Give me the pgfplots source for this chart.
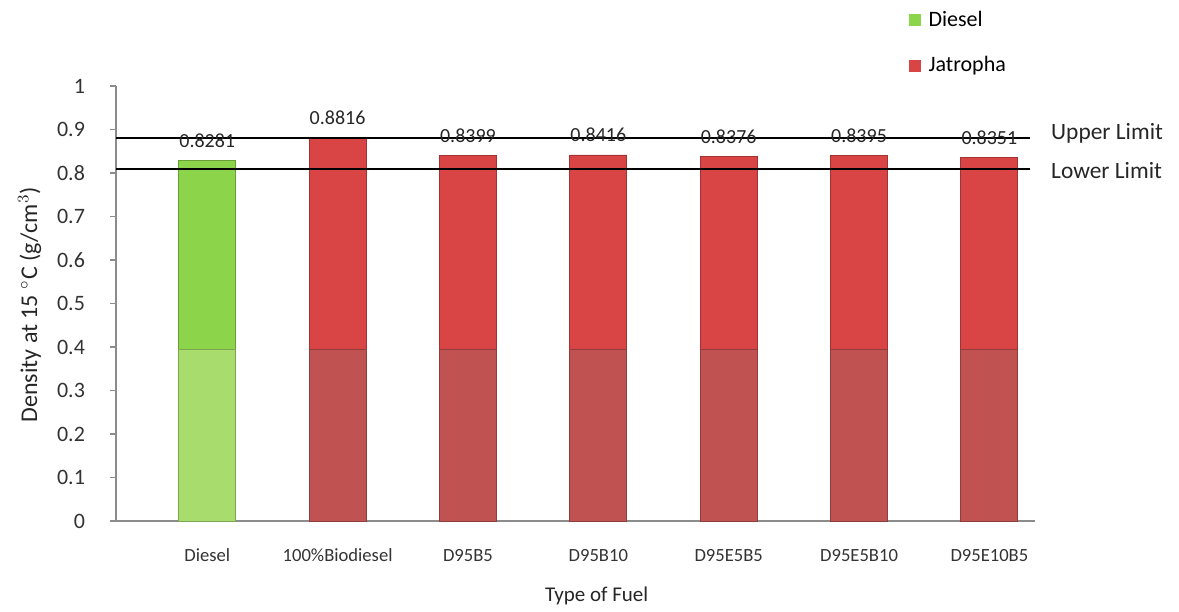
\documentclass[border=0pt]{standalone}
\usepackage{pgfplots}
\pgfplotsset{compat=1.18}
\usepackage{fontspec}
\setmainfont{Carlito}
\definecolor{gtop}{HTML}{8CD44A}
\definecolor{glow}{HTML}{A8DD6E}
\definecolor{rtop}{HTML}{D94444}
\definecolor{rlow}{HTML}{C05252}
\definecolor{axgray}{HTML}{8C8C8C}
\begin{document}
\begin{tikzpicture}
\useasboundingbox (0,0) rectangle (589.5pt,305.5pt);
\begin{axis}[
  at={(58pt,45pt)}, anchor=south west,
  scale only axis, width=459.5pt, height=217.5pt,
  xmin=-0.70, xmax=6.35, ymin=0, ymax=1,
  axis x line=bottom, axis y line=left,
  axis line style={-, axgray, line width=0.6pt},
  xtick={0,1,2,3,4,5,6},
  xticklabels={Diesel,100\%Biodiesel,D95B5,D95B10,D95E5B5,D95E5B10,D95E10B5},
  xtick style={draw=none},
  xticklabel style={font=\fontsize{9.3}{10}\selectfont, text=black!80, yshift=-7.5pt},
  ytick={0,0.1,0.2,0.3,0.4,0.5,0.6,0.7,0.8,0.9,1},
  ytick style={axgray, line width=0.6pt},
  tick align=outside, major tick length=3pt,
  yticklabel style={font=\fontsize{11}{12}\selectfont, text=black!80, xshift=-9pt},
  /pgf/number format/assume math mode=true,
  xlabel={Type of Fuel},
  xlabel style={at={(axis description cs:0.523,0)}, anchor=center, yshift=-37.5pt, font=\fontsize{10.5}{12}\selectfont, text=black!85},
  ylabel={Density at 15 $^{\circ}$C (g/cm$^{3}$)},
  ylabel style={at={(axis description cs:-0.094,0.497)}, anchor=center, font=\fontsize{12}{14}\selectfont, text=black!85},
  clip=false,
  ybar, bar width=28.5pt, bar shift=0pt,
  legend style={draw=none, fill=none, at={(0.862,1.182)}, anchor=north west,
    font=\fontsize{11}{13}\selectfont, row sep=9.5pt, inner sep=0pt},
  legend cell align=left,
  legend image code/.code={\path[#1,draw=none] (0pt,-3pt) rectangle (6pt,3pt);},
  legend style={/tikz/every odd column/.append style={column sep=2pt}},
]
% full bars (top colour)
\addplot[fill=gtop, draw=gtop!75!black, line width=0.4pt,
  nodes near coords, nodes near coords style={font=\fontsize{10}{12}\selectfont, text=black!85, yshift=3pt},
  point meta=explicit symbolic]
  coordinates {(0,0.8281) [0.8281]};
\addlegendentry{Diesel}
\addplot[fill=rtop, draw=rtop!75!black, line width=0.4pt,
  nodes near coords, nodes near coords style={font=\fontsize{10}{12}\selectfont, text=black!85, yshift=3pt},
  point meta=explicit symbolic]
  coordinates {(1,0.8816) [0.8816] (2,0.8399) [0.8399] (3,0.8416) [0.8416] (4,0.8376) [0.8376] (5,0.8395) [0.8395] (6,0.8351) [0.8351]};
\addlegendentry{Jatropha}
% lower, muted part of the bars
\addplot[forget plot, fill=glow, draw=glow!75!black, line width=0.4pt]
  coordinates {(0,0.395)};
\addplot[forget plot, fill=rlow, draw=rlow!75!black, line width=0.4pt]
  coordinates {(1,0.395) (2,0.395) (3,0.395) (4,0.395) (5,0.395) (6,0.395)};
% limit lines
\addplot[forget plot, sharp plot, black, line width=1pt] coordinates {(-0.70,0.88) (6.31,0.88)};
\addplot[forget plot, sharp plot, black, line width=1pt] coordinates {(-0.70,0.81) (6.31,0.81)};
\node[anchor=west, font=\fontsize{11.7}{14}\selectfont, text=black!85] at (axis cs:6.42,0.892) {Upper Limit};
\node[anchor=west, font=\fontsize{11.7}{14}\selectfont, text=black!85] at (axis cs:6.42,0.805) {Lower Limit};
\end{axis}
\end{tikzpicture}
\end{document}
